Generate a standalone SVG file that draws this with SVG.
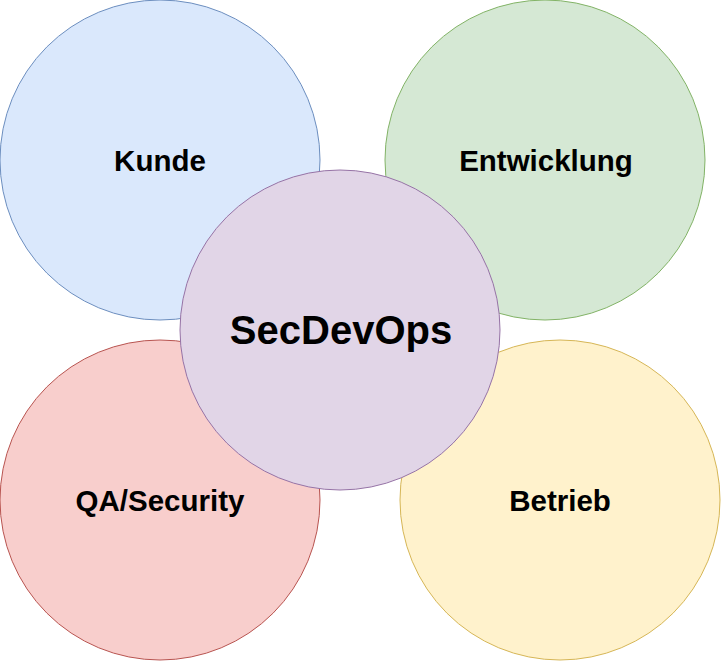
<svg xmlns="http://www.w3.org/2000/svg" width="721" height="661" viewBox="0 0 721 661">
<style>
.lbl{font-family:"Liberation Sans",Arial,sans-serif;font-weight:bold;fill:#000;text-anchor:middle}
.s{font-size:29.5px}
.b{font-size:40px}
</style>
<rect width="721" height="661" fill="#ffffff"/>
<g id="kunde"><circle cx="160" cy="160" r="160" fill="#dae8fc" stroke="#6c8ebf"/><text class="lbl s" x="160" y="171">Kunde</text></g>
<g id="entwicklung"><circle cx="545" cy="160" r="160" fill="#d5e8d4" stroke="#82b366"/><text class="lbl s" x="546" y="171">Entwicklung</text></g>
<g id="qa"><circle cx="160" cy="500" r="160" fill="#f8cecc" stroke="#b85450"/><text class="lbl s" x="160" y="511">QA/Security</text></g>
<g id="betrieb"><circle cx="560" cy="500" r="160" fill="#fff2cc" stroke="#d6b656"/><text class="lbl s" x="560" y="511">Betrieb</text></g>
<g id="secdevops"><circle cx="340" cy="330" r="160" fill="#e1d5e7" stroke="#9673a6"/><text class="lbl b" x="341" y="344">SecDevOps</text></g>
<g id="connectors"></g>
</svg>
